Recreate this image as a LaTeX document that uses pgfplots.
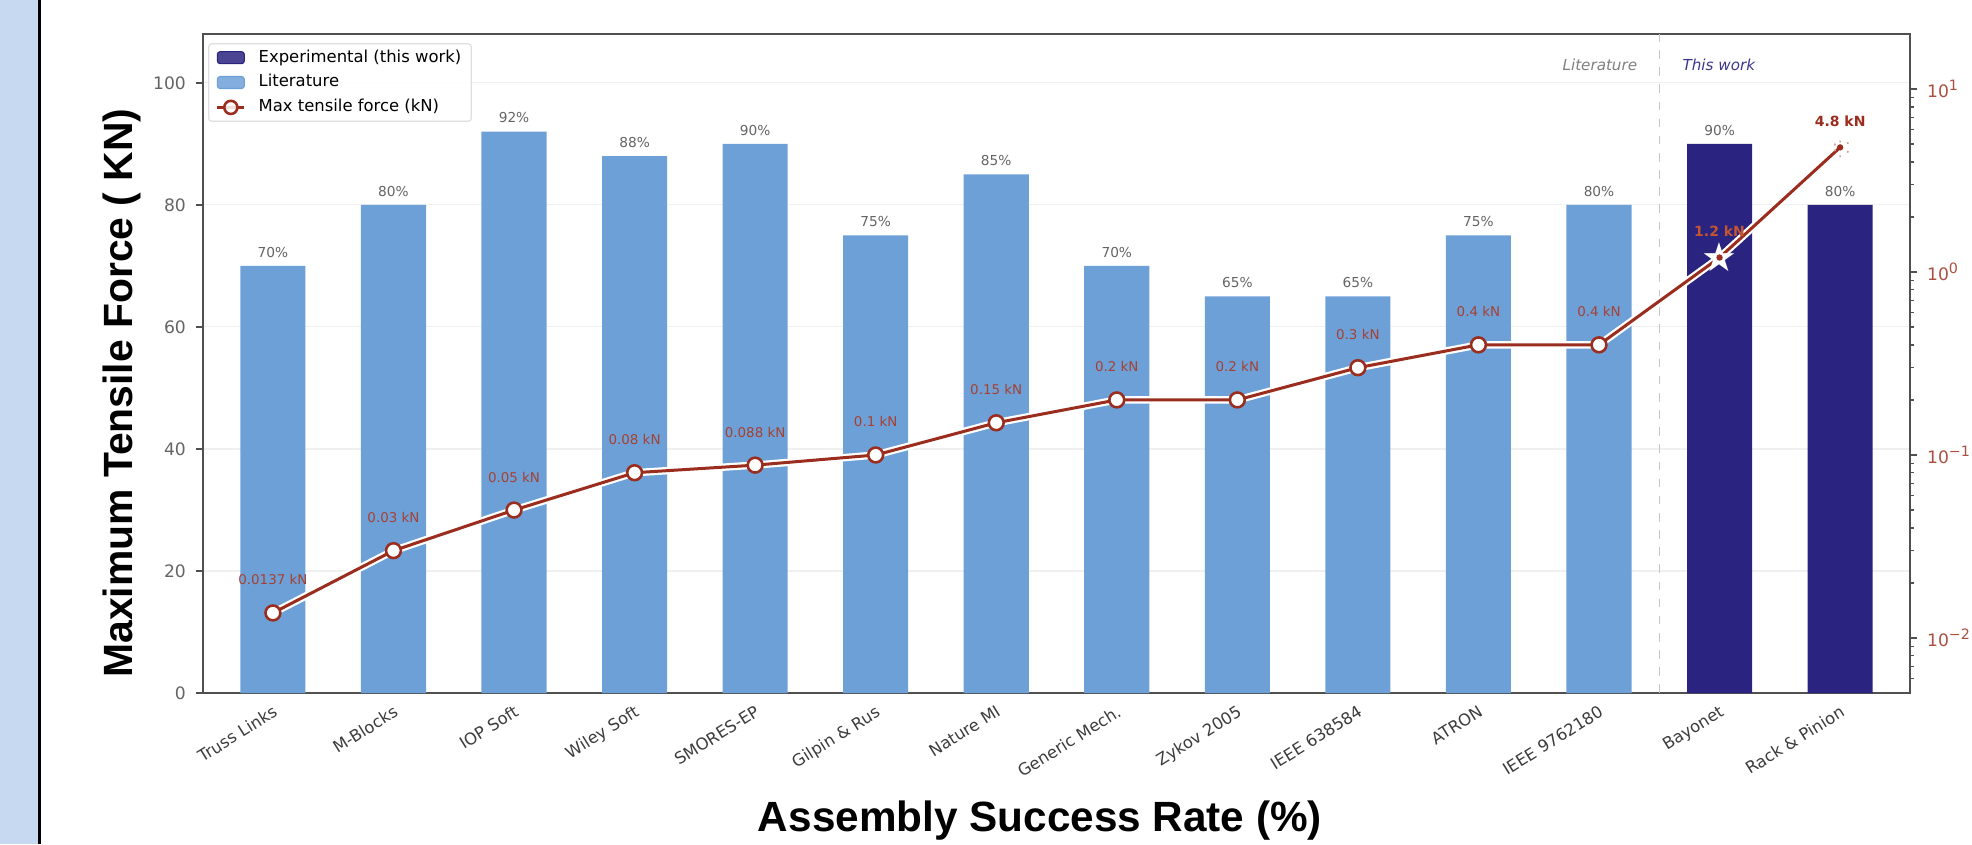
\documentclass[border=0pt]{standalone}
\usepackage{fontspec}
\setmainfont{DejaVu Sans}
\newfontfamily\lab{Liberation Sans}
\usepackage{pgfplots}
\pgfplotsset{compat=1.18}
\usetikzlibrary{plotmarks}
\definecolor{litblue}{RGB}{110,160,216}
\definecolor{expnavy}{RGB}{43,35,128}
\definecolor{linered}{RGB}{155,45,30}
\definecolor{stripblue}{RGB}{198,217,240}
\definecolor{spine}{RGB}{80,80,80}
\definecolor{ticktxt}{RGB}{100,100,100}
\definecolor{catlbl}{RGB}{60,60,60}
\definecolor{rtick}{RGB}{170,80,65}
\definecolor{lbl}{RGB}{165,65,50}
\definecolor{lblb}{RGB}{195,85,50}
\definecolor{thiswork}{RGB}{60,55,140}
\begin{document}
\begin{tikzpicture}
\path[use as bounding box] (0pt,0pt) rectangle (690.2pt,295.4pt);
\begin{scope}[x=0.35pt,y=0.35pt]
\fill[stripblue] (0,0) rectangle (38,844);
\fill[black] (38,0) rectangle (41,844);
\node[rotate=90, font=\lab\bfseries\fontsize{14.3}{15}\selectfont] at (122,451) {Maximum Tensile Force ( KN)};
\node[font=\lab\bfseries\fontsize{14.8}{16}\selectfont] at (1040,23) {Assembly Success Rate (\%)};
\end{scope}
% ---------- bars (left axis) ----------
\begin{axis}[
 at={(71.05pt,52.85pt)}, anchor=south west, scale only axis,
 width=597.45pt, height=230.65pt,
 xmin=-0.58, xmax=13.58, ymin=0, ymax=108,
 axis line style={spine, line width=0.7pt},
 xtick={0,...,13},
 xticklabels={Truss Links, M-Blocks, IOP Soft, Wiley Soft, SMORES-EP, Gilpin \& Rus, Nature MI, Generic Mech., Zykov 2005, IEEE 638584, ATRON, IEEE 9762180, Bayonet, Rack \& Pinion},
 xtick style={draw=none},
 x tick label style={rotate=32, anchor=north east, font=\fontsize{5.75}{6}\selectfont, text=catlbl, inner sep=1pt},
 ytick={0,20,...,100}, ytick pos=left, tick align=outside,
 major tick length=2.45pt,
 ytick style={spine, line width=0.5pt},
 y tick label style={font=\fontsize{6}{7}\selectfont, text=ticktxt},
 yticklabel style={/pgf/number format/assume math mode=true},
 ymajorgrids, major grid style={gray!12, line width=0.4pt},
 clip=false,
]
\addplot[ybar, bar width=0.54, bar shift=0pt, fill=litblue, draw=none,
 nodes near coords={\pgfmathprintnumber[fixed,precision=0,assume math mode=true]{\pgfplotspointmeta}\%},
 every node near coord/.append style={font=\fontsize{4.8}{5}\selectfont, text=ticktxt, inner sep=1.6pt, yshift=1.2pt}]
 coordinates {(0,70) (1,80) (2,92) (3,88) (4,90) (5,75) (6,85) (7,70) (8,65) (9,65) (10,75) (11,80)};
\addplot[ybar, bar width=0.54, bar shift=0pt, fill=expnavy, draw=none,
 nodes near coords={\pgfmathprintnumber[fixed,precision=0,assume math mode=true]{\pgfplotspointmeta}\%},
 every node near coord/.append style={font=\fontsize{4.8}{5}\selectfont, text=ticktxt, inner sep=1.6pt, yshift=1.2pt}]
 coordinates {(12,90) (13,80)};
\draw[gray!45, dashed, line width=0.4pt] (axis cs:11.5,0) -- (axis cs:11.5,108);
\node[anchor=east, font=\fontsize{5.3}{6}\selectfont\itshape, text=gray] at (axis cs:11.4,103) {Literature};
\node[anchor=west, font=\fontsize{5.3}{6}\selectfont\itshape, text=thiswork] at (axis cs:11.61,103) {This work};
\end{axis}
% ---------- line (right log axis) ----------
\begin{axis}[
 at={(71.05pt,52.85pt)}, anchor=south west, scale only axis,
 width=597.45pt, height=230.65pt,
 xmin=-0.58, xmax=13.58,
 ymode=log, ymin=0.005, ymax=20,
 axis x line=none, axis y line*=right,
 axis line style={spine, line width=0.7pt},
 ytick={0.01,0.1,1,10},
 yticklabels={10\textsuperscript{−2},10\textsuperscript{−1},10\textsuperscript{0},10\textsuperscript{1}},
 minor ytick={0.006,0.007,0.008,0.009,0.02,0.03,0.04,0.05,0.06,0.07,0.08,0.09,0.2,0.3,0.4,0.5,0.6,0.7,0.8,0.9,2,3,4,5,6,7,8,9},
 tick align=outside, major tick length=2.45pt, minor tick length=1.4pt,
 tick style={spine, line width=0.5pt},
 y tick label style={font=\fontsize{6}{7}\selectfont, text=rtick},
 clip=false,
 legend style={at={(0.003,0.986)}, anchor=north west, draw=gray!25, fill=white, fill opacity=0.85, text opacity=1, rounded corners=1pt,
   font=\fontsize{5.75}{7}\selectfont, inner xsep=2.5pt, inner ysep=1pt, row sep=1pt,
   nodes={inner sep=1pt, text height=4.4pt, text depth=1.3pt},
   /tikz/every odd column/.append style={column sep=3.5pt}},
 legend cell align=left,
]
\addlegendimage{legend image code/.code={\fill[expnavy] (0pt,-2.1pt) rectangle (9.45pt,2.1pt);}}
\addlegendentry{Experimental (this work)}
\addlegendimage{legend image code/.code={\fill[litblue] (0pt,-2.1pt) rectangle (9.45pt,2.1pt);}}
\addlegendentry{Literature}
\addplot[white, line width=2.6pt, forget plot] coordinates {(0,0.0137) (1,0.03) (2,0.05) (3,0.08) (4,0.088) (5,0.1) (6,0.15) (7,0.2) (8,0.2) (9,0.3) (10,0.4) (11,0.4) (12,1.2) (13,4.8)};
\addplot[linered, line width=1.05pt, mark=none,
 legend image code/.code={\draw[linered, line width=1.05pt] (0pt,0pt) -- (9.45pt,0pt); \draw[linered, fill=white, line width=0.9pt] (4.725pt,0pt) circle (2.3pt);}]
 coordinates {(0,0.0137) (1,0.03) (2,0.05) (3,0.08) (4,0.088) (5,0.1) (6,0.15) (7,0.2) (8,0.2) (9,0.3) (10,0.4) (11,0.4) (12,1.2) (13,4.8)};
\addlegendentry{Max tensile force (kN)}
\addplot[only marks, forget plot, mark=*, mark size=2.6pt, mark options={fill=white, draw=linered, line width=0.9pt}]
 coordinates {(0,0.0137) (1,0.03) (2,0.05) (3,0.08) (4,0.088) (5,0.1) (6,0.15) (7,0.2) (8,0.2) (9,0.3) (10,0.4) (11,0.4)};
\addplot[only marks, forget plot, mark=text, text mark={\fontsize{14}{14}\selectfont\textcolor{white}{★}}]
 coordinates {(12,1.2)};
\addplot[only marks, forget plot, mark=asterisk, mark size=3.4pt, mark options={draw=linered!45, line width=0.6pt, dotted}]
 coordinates {(13,4.8)};
\addplot[only marks, forget plot, mark=*, mark size=0.9pt, linered]
 coordinates {(12,1.2) (13,4.8)};
% value labels
\addplot[draw=none, forget plot, nodes near coords, point meta=explicit symbolic,
 every node near coord/.style={font=\fontsize{4.7}{5}\selectfont, text=lbl, anchor=center, yshift=11.55pt}]
 coordinates {(0,0.0137) [0.0137 kN] (1,0.03) [0.03 kN] (2,0.05) [0.05 kN] (3,0.08) [0.08 kN] (4,0.088) [0.088 kN] (5,0.1) [0.1 kN] (6,0.15) [0.15 kN] (7,0.2) [0.2 kN] (8,0.2) [0.2 kN] (9,0.3) [0.3 kN] (10,0.4) [0.4 kN] (11,0.4) [0.4 kN]};
\addplot[draw=none, forget plot, nodes near coords, point meta=explicit symbolic,
 every node near coord/.style={font=\fontsize{4.9}{5}\selectfont\bfseries, text=lblb, anchor=center, yshift=9.1pt}]
 coordinates {(12,1.2) [1.2 kN]};
\addplot[draw=none, forget plot, nodes near coords, point meta=explicit symbolic,
 every node near coord/.style={font=\fontsize{4.9}{5}\selectfont\bfseries, text=linered, anchor=center, yshift=9.1pt}]
 coordinates {(13,4.8) [4.8 kN]};
\end{axis}
\end{tikzpicture}
\end{document}
